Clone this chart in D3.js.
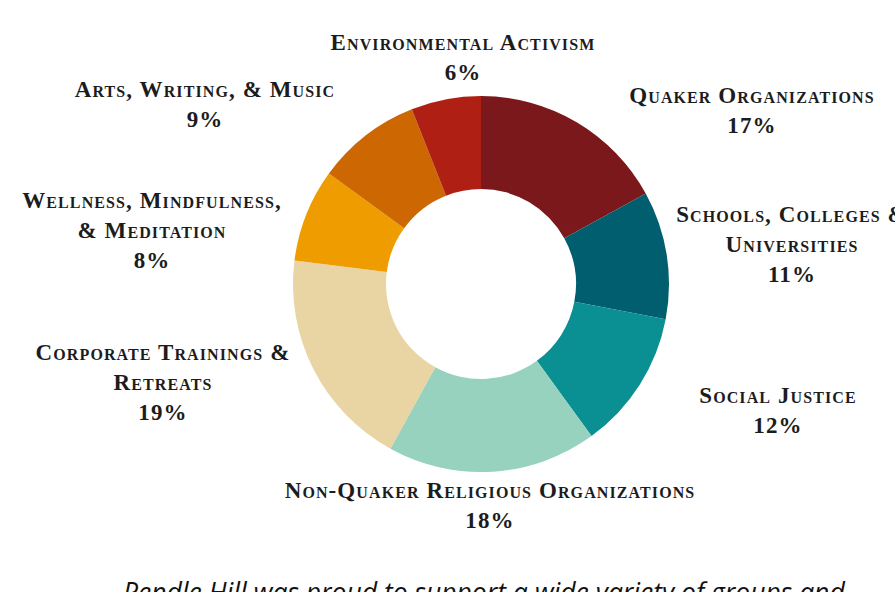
<!DOCTYPE html>
<html>
<head>
<meta charset="utf-8">
<script src="https://cdn.jsdelivr.net/npm/d3@7"></script>
<style>
body { margin: 0; background: #fff; }
.lbl { font-family: "Liberation Serif", "DejaVu Serif", serif; font-variant: small-caps; font-weight: bold; font-size: 23px; letter-spacing: 1.1px; fill: #1c1c1c; }
.note { font-family: "Open Sans", "Liberation Sans", sans-serif; font-style: italic; font-size: 26.5px; fill: #111; }
</style>
</head>
<body>
<svg id="chart" width="895" height="592"></svg>
<script>
// sectors, clockwise from 12 o'clock
var categories = ["Quaker Organizations", "Schools, Colleges & Universities", "Social Justice",
    "Non-Quaker Religious Organizations", "Corporate Trainings & Retreats",
    "Wellness, Mindfulness, & Meditation", "Arts, Writing, & Music", "Environmental Activism"];
var values = [17, 11, 12, 18, 19, 8, 9, 6];
var colors = ["#7b181c", "#015e6f", "#0a8f92", "#96d2bd", "#e8d5a3", "#ef9c00", "#cc6701", "#b01f13"];
// label lines as they wrap in the picture
var labelLines = [
    ["Quaker Organizations"],
    ["Schools, Colleges &", "Universities"],
    ["Social Justice"],
    ["Non-Quaker Religious Organizations"],
    ["Corporate Trainings &", "Retreats"],
    ["Wellness, Mindfulness,", "& Meditation"],
    ["Arts, Writing, & Music"],
    ["Environmental Activism"]
];
var labelPos = [[752, 103], [792, 222], [778, 403], [490, 498], [163, 360], [152, 208], [205, 97], [463, 50]];
var note = "Pendle Hill was proud to support a wide variety of groups and";

var svg = d3.select("#chart");
var cx = 481, cy = 284, outerR = 188, innerR = 95;
var lineH = 30;

var pie = d3.pie().sort(null).value(function (d) { return d; });
var arc = d3.arc().innerRadius(innerR).outerRadius(outerR);

var g = svg.append("g").attr("transform", "translate(" + cx + "," + cy + ")");
g.selectAll("path")
    .data(pie(values))
    .enter().append("path")
        .attr("d", arc)
        .attr("fill", function (d, i) { return colors[i]; });

// labels
categories.forEach(function (c, i) {
    var t = svg.append("text")
        .attr("class", "lbl")
        .attr("text-anchor", "middle")
        .attr("x", labelPos[i][0])
        .attr("y", labelPos[i][1]);
    var lines = labelLines[i].concat([values[i] + "%"]);
    lines.forEach(function (l, j) {
        t.append("tspan")
            .attr("x", labelPos[i][0])
            .attr("dy", j == 0 ? 0 : lineH)
            .text(l);
    });
});

svg.append("text")
    .attr("class", "note")
    .attr("x", 123)
    .attr("y", 602)
    .text(note);
</script>
</body>
</html>
